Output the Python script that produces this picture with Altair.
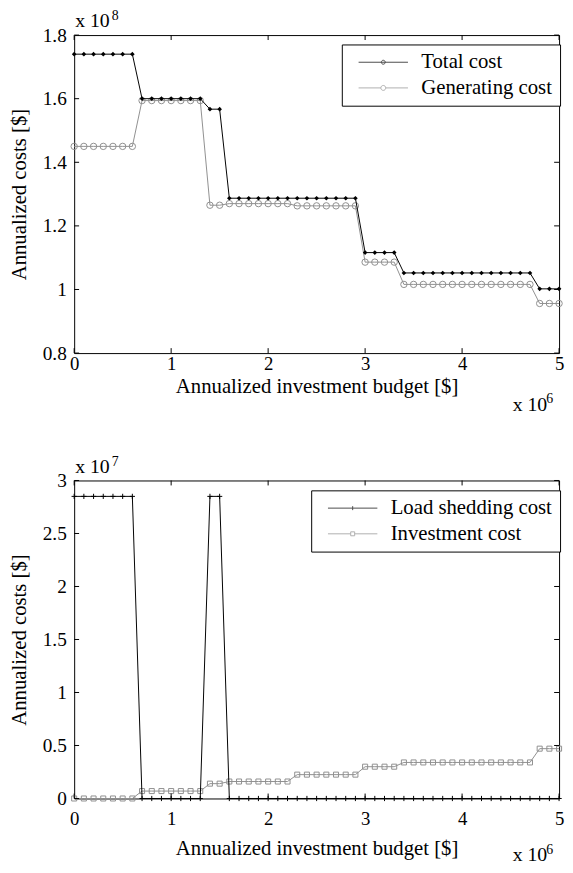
import altair as alt
import pandas as pd

FONT = "Liberation Serif, Times New Roman, DejaVu Serif, serif"
GRAY = "#8f8f8f"

# ---- data (x in units of 1e6 $, top costs in 1e8 $, bottom costs in 1e7 $) ----
budget = [0.0, 0.1, 0.2, 0.3, 0.4, 0.5, 0.6, 0.7, 0.8, 0.9,
          1.0, 1.1, 1.2, 1.3, 1.4, 1.5, 1.6, 1.7, 1.8, 1.9,
          2.0, 2.1, 2.2, 2.3, 2.4, 2.5, 2.6, 2.7, 2.8, 2.9,
          3.0, 3.1, 3.2, 3.3, 3.4, 3.5, 3.6, 3.7, 3.8, 3.9,
          4.0, 4.1, 4.2, 4.3, 4.4, 4.5, 4.6, 4.7, 4.8, 4.9, 5.0]

total_cost = [1.74, 1.74, 1.74, 1.74, 1.74, 1.74, 1.74,
              1.60, 1.60, 1.60, 1.60, 1.60, 1.60, 1.60,
              1.567, 1.567,
              1.287, 1.287, 1.287, 1.287, 1.287, 1.287, 1.287,
              1.287, 1.287, 1.287, 1.287, 1.287, 1.287, 1.287,
              1.116, 1.116, 1.116, 1.116,
              1.052, 1.052, 1.052, 1.052, 1.052, 1.052, 1.052,
              1.052, 1.052, 1.052, 1.052, 1.052, 1.052, 1.052,
              1.002, 1.002, 1.002]

generating_cost = [1.45, 1.45, 1.45, 1.45, 1.45, 1.45, 1.45,
                   1.594, 1.594, 1.594, 1.594, 1.594, 1.594, 1.594,
                   1.265, 1.265,
                   1.270, 1.270, 1.270, 1.270, 1.270, 1.270, 1.270,
                   1.263, 1.263, 1.263, 1.263, 1.263, 1.263, 1.263,
                   1.086, 1.086, 1.086, 1.086,
                   1.016, 1.016, 1.016, 1.016, 1.016, 1.016, 1.016,
                   1.016, 1.016, 1.016, 1.016, 1.016, 1.016, 1.016,
                   0.956, 0.956, 0.956]

load_shedding_cost = [2.85, 2.85, 2.85, 2.85, 2.85, 2.85, 2.85,
                      0, 0, 0, 0, 0, 0, 0,
                      2.85, 2.85,
                      0, 0, 0, 0, 0, 0, 0, 0, 0, 0, 0, 0, 0, 0,
                      0, 0, 0, 0, 0, 0, 0, 0, 0, 0, 0, 0, 0, 0,
                      0, 0, 0, 0, 0, 0, 0]

investment_cost = [0, 0, 0, 0, 0, 0, 0,
                   0.07, 0.07, 0.07, 0.07, 0.07, 0.07, 0.07,
                   0.14, 0.14,
                   0.16, 0.16, 0.16, 0.16, 0.16, 0.16, 0.16,
                   0.225, 0.225, 0.225, 0.225, 0.225, 0.225, 0.225,
                   0.30, 0.30, 0.30, 0.30,
                   0.34, 0.34, 0.34, 0.34, 0.34, 0.34, 0.34,
                   0.34, 0.34, 0.34, 0.34, 0.34, 0.34, 0.34,
                   0.47, 0.47, 0.47]

x_ticks = [0, 1, 2, 3, 4, 5]
top_y_ticks = [0.8, 1.0, 1.2, 1.4, 1.6, 1.8]
bottom_y_ticks = [0, 0.5, 1, 1.5, 2, 2.5, 3]

top_names = ["Total cost", "Generating cost"]
bottom_names = ["Load shedding cost", "Investment cost"]

W, H = 491, 322

x_title = "Annualized investment budget [$]"
y_title = "Annualized costs [$]"


def x_enc(label_pad, title_y):
    return alt.X("x:Q", scale=alt.Scale(domain=[0, 5], nice=False, zero=False),
                 axis=alt.Axis(values=x_ticks, format="~g", ticks=False, tickSize=0,
                               domain=False, grid=False, labelFlush=False,
                               labelFont=FONT, labelFontSize=19, labelColor="black",
                               labelPadding=label_pad, title=x_title, titleFont=FONT,
                               titleFontSize=21, titleFontWeight="normal",
                               titleColor="black", titleBaseline="alphabetic",
                               titleY=title_y))


def y_enc(field, domain, ticks):
    return alt.Y(f"{field}:Q", scale=alt.Scale(domain=domain, nice=False, zero=False),
                 axis=alt.Axis(values=ticks, format="~g", ticks=False, tickSize=0,
                               domain=False, grid=False, labelFlush=False,
                               labelFont=FONT, labelFontSize=19.5, labelColor="black",
                               labelPadding=8, title=y_title, titleFont=FONT,
                               titleFontSize=21, titleFontWeight="normal",
                               titleColor="black", titleBaseline="alphabetic",
                               titleAngle=-90, titleX=-49, titleY=H / 2))


def frame_ticks(y_domain, y_ticks):
    xt = pd.DataFrame({"x": x_ticks})
    yt = pd.DataFrame({"y": y_ticks})
    common = dict(filled=False, size=25, strokeWidth=1, color="black", opacity=1)
    bx = alt.Chart(xt).mark_point(shape="M0,0V-2", **common).encode(
        x=alt.X("x:Q"), y=alt.datum(y_domain[0]))
    tx = alt.Chart(xt).mark_point(shape="M0,0V2", **common).encode(
        x=alt.X("x:Q"), y=alt.datum(y_domain[1]))
    ly = alt.Chart(yt).mark_point(shape="M0,0H2", **common).encode(
        y=alt.Y("y:Q"), x=alt.datum(0))
    ry = alt.Chart(yt).mark_point(shape="M0,0H-2", **common).encode(
        y=alt.Y("y:Q"), x=alt.datum(5))
    return [bx, tx, ly, ry]


def legend_layer(field, names, colors, paths, lx, ly):
    leg = alt.Legend(title=None, orient="none", legendX=lx, legendY=ly, padding=7.5,
                     strokeColor="black", fillColor="white", cornerRadius=0,
                     labelFont=FONT, labelFontSize=21, labelColor="black",
                     symbolSize=100, symbolStrokeWidth=1, labelOffset=52,
                     rowPadding=4, labelLimit=400, symbolFillColor="transparent")
    df = pd.DataFrame({field: names})
    return alt.Chart(df).transform_filter("false").mark_point(
        filled=False, strokeWidth=1).encode(
        color=alt.Color(f"{field}:N", scale=alt.Scale(domain=names, range=colors),
                        legend=leg),
        shape=alt.Shape(f"{field}:N", scale=alt.Scale(domain=names, range=paths),
                        legend=leg))


def exponent_text(base_x, base_y, exp, sup_x, sup_y):
    df = pd.DataFrame({"t": ["x 10"], "e": [exp]})
    a = alt.Chart(df).mark_text(align="left", baseline="alphabetic", font=FONT,
                                fontSize=20, color="black").encode(
        text="t:N", x=alt.value(base_x), y=alt.value(base_y))
    b = alt.Chart(df).mark_text(align="left", baseline="alphabetic", font=FONT,
                                fontSize=14, color="black").encode(
        text="e:N", x=alt.value(sup_x), y=alt.value(sup_y))
    return [a, b]


# legend symbol paths: units are 5 px (symbolSize 100), line is 50 px long
P_TOT = "M-0.2,0H9.8M4.4,0A0.4,0.4 0 1,0 5.2,0A0.4,0.4 0 1,0 4.4,0"
P_GEN = "M-0.2,0H4.3M5.3,0H9.8M4.3,0A0.5,0.5 0 1,0 5.3,0A0.5,0.5 0 1,0 4.3,0"
P_LS = "M-0.2,0H9.8M4.8,-0.4V0.4"
P_INV = "M-0.2,0H4.4M5.2,0H9.8M4.4,-0.4H5.2V0.4H4.4Z"

# ---------------- top panel ----------------
top_df = pd.DataFrame({"x": budget, "tot": total_cost, "gen": generating_cost})
top_domain = [0.8, 1.8]

gen_line = alt.Chart(top_df).mark_line(color=GRAY, strokeWidth=1).encode(
    x=x_enc(2, 40), y=y_enc("gen", top_domain, top_y_ticks))
gen_pts = alt.Chart(top_df).mark_point(shape="circle", size=42, filled=False,
                                       color=GRAY, strokeWidth=1, opacity=1).encode(
    x="x:Q", y=alt.Y("gen:Q"))
tot_line = alt.Chart(top_df).mark_line(color="black", strokeWidth=1).encode(
    x="x:Q", y=alt.Y("tot:Q"))
tot_pts = alt.Chart(top_df).mark_point(shape="diamond", size=22, filled=True,
                                       color="black", opacity=1).encode(
    x="x:Q", y=alt.Y("tot:Q"))

top_leg = legend_layer("series_top", top_names, ["black", GRAY], [P_TOT, P_GEN],
                       271, 9.5)

top = alt.layer(
    gen_line, gen_pts, tot_line, tot_pts, top_leg,
    *frame_ticks(top_domain, top_y_ticks),
    *exponent_text(1, -8, "8", 38, -15),
    *exponent_text(444, 381, "6", 478, 373),
).properties(width=W, height=H)

# ---------------- bottom panel ----------------
bot_df = pd.DataFrame({"x": budget, "ls": load_shedding_cost, "inv": investment_cost})
bot_domain = [0, 3]

inv_line = alt.Chart(bot_df).mark_line(color=GRAY, strokeWidth=1).encode(
    x=x_enc(11, 57), y=y_enc("inv", bot_domain, bottom_y_ticks))
inv_pts = alt.Chart(bot_df).mark_point(shape="square", size=26, filled=False,
                                       color=GRAY, strokeWidth=1, opacity=1).encode(
    x="x:Q", y=alt.Y("inv:Q"))
ls_line = alt.Chart(bot_df).mark_line(color="black", strokeWidth=1).encode(
    x="x:Q", y=alt.Y("ls:Q"))
ls_pts = alt.Chart(bot_df).mark_point(shape="M-1,0H1M0,-1V1", size=28, filled=False,
                                      color="black", strokeWidth=1, opacity=1).encode(
    x="x:Q", y=alt.Y("ls:Q"))

bot_leg = legend_layer("series_bot", bottom_names, ["black", GRAY], [P_LS, P_INV],
                       240, 10)

bottom = alt.layer(
    inv_line, inv_pts, ls_line, ls_pts, bot_leg,
    *frame_ticks(bot_domain, bottom_y_ticks),
    *exponent_text(1, -8, "7", 38, -15),
    *exponent_text(444, 385, "6", 478, 378),
).properties(width=W, height=H)

chart = alt.vconcat(top, bottom, spacing=38).resolve_scale(
    color="independent", shape="independent", x="independent", y="independent"
).properties(
    padding={"left": 0, "top": -5, "right": 0, "bottom": 0}
).configure_view(stroke="black", strokeWidth=1)

chart.save("out.html", embed_options={"renderer": "svg", "actions": False})
